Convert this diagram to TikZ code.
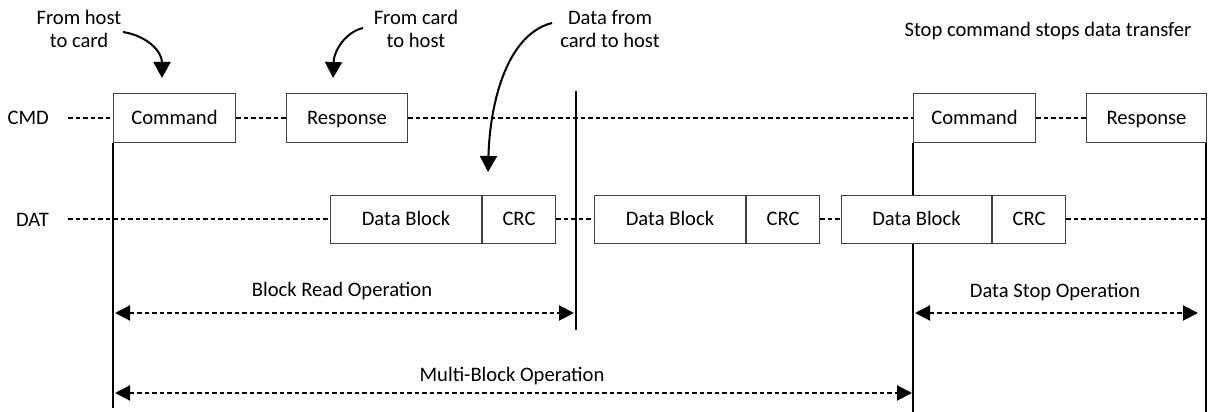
\documentclass[tikz,border=0pt]{standalone}
\usepackage{fontspec}
\setmainfont{Carlito}
\usetikzlibrary{arrows.meta,backgrounds}
\begin{document}
\begin{tikzpicture}[x=1pt,y=-1pt,
  every node/.style={font=\fontsize{20.6}{23.5}\selectfont, inner sep=0pt, text=black},
  blk/.style={draw=black!75, fill=white, line width=1pt, minimum height=48pt, anchor=west,
              text height=13.3pt, text depth=0pt},
  sig/.style={line width=2pt, dash pattern=on 4.5pt off 3pt},
  vline/.style={line width=2pt},
  dbl/.style={sig, {Triangle[length=15pt,width=15pt]}-{Triangle[length=15pt,width=15pt]}},
  cur/.style={line width=2pt, -{Triangle[length=16pt,width=17pt]}}]
\useasboundingbox (0,0) rectangle (1211,412);

% signal labels
\node[anchor=east, text height=13.3pt, text depth=0pt] (cmdlbl) at (49,118) {CMD};
\node[anchor=east, text height=13.3pt, text depth=0pt] (datlbl) at (49,220) {DAT};
\coordinate (cmdstart) at (68,118);
\coordinate (datstart) at (68,219);
\coordinate (datend) at (1206,219);

% CMD boxes
\node[blk, minimum width=122pt] (cmd1) at (113,118) {Command};
\node[blk, minimum width=121pt] (rsp1) at (286,118) {Response};
\node[blk, minimum width=122pt] (cmd2) at (913,118) {Command};
\node[blk, minimum width=120pt] (rsp2) at (1086,118) {Response};

% DAT boxes
\node[blk, minimum width=151pt] (db1) at (330,219) {Data Block};
\node[blk, minimum width=73pt] (crc1) at (db1.east) {CRC};
\node[blk, minimum width=151pt] (db2) at (594,219) {Data Block};
\node[blk, minimum width=73pt] (crc2) at (db2.east) {CRC};
\node[blk, minimum width=150pt] (db3) at (841,219) {Data Block};
\node[blk, minimum width=73pt] (crc3) at (db3.east) {CRC};

\begin{scope}[on background layer]
% dashed signal lines
\draw[sig] (cmdstart) -- (cmd1.west);
\draw[sig] (cmd1.east) -- (rsp1.west);
\draw[sig] (rsp1.east) -- (cmd2.west);
\draw[sig] (cmd2.east) -- (rsp2.west);
\draw[sig] (datstart) -- (db1.west);
\draw[sig] (crc1.east) -- (db2.west);
\draw[sig] (crc2.east) -- (db3.west);
\draw[sig] (crc3.east) -- (datend);

% vertical markers
\coordinate (v1b) at (113,408);
\coordinate (v2t) at (576,91);
\coordinate (v2b) at (576,330);
\coordinate (v3b) at (913,412);
\coordinate (v4t) at (1206,118);
\coordinate (v4b) at (1206,412);
\draw[vline] (cmd1.south west) -- (v1b);
\draw[vline] (v2t) -- (v2b);
\draw[vline] (cmd2.south west) -- (v3b);
\draw[vline] (v4t) -- (v4b);
\end{scope}

% operation spans
\coordinate (br1) at (115,313);
\coordinate (br2) at (574,313);
\coordinate (mb1) at (115,393);
\coordinate (mb2) at (912,393);
\coordinate (ds1) at (915,313);
\coordinate (ds2) at (1198,313);
\draw[dbl] (br1) -- (br2);
\draw[dbl] (mb1) -- (mb2);
\draw[dbl] (ds1) -- (ds2);
\node (brl) at (342,291) {Block Read Operation};
\node (mbl) at (512,376) {Multi-Block Operation};
\node (dsl) at (1055,292) {Data Stop Operation};

% annotations
\node[align=center] (n1) at (79,29) {From host\\to card};
\node[align=center] (n2) at (416,29) {From card\\to host};
\node[align=center] (n3) at (610,29) {Data from\\card to host};
\node (n4) at (1048,31) {Stop command stops data transfer};

\coordinate (a1s) at (123,32);
\coordinate (a1e) at (162,78);
\coordinate (a2s) at (363,28);
\coordinate (a2e) at (333,78);
\coordinate (a3s) at (552,23);
\coordinate (a3e) at (488,172);
\draw[cur] (a1s) .. controls (148,36) and (162,52) .. (a1e);
\draw[cur] (a2s) .. controls (346,32) and (334,50) .. (a2e);
\draw[cur] (a3s) .. controls (508,34) and (490,100) .. (a3e);
\end{tikzpicture}
\end{document}
